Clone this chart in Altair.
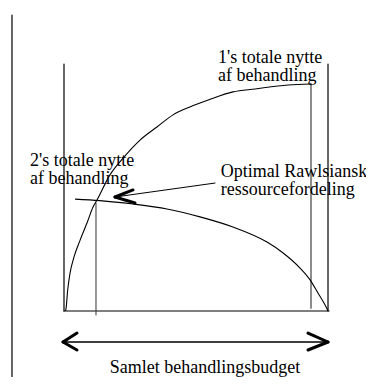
import altair as alt
import pandas as pd

# Curve 1: person 1's total utility vs. budget given to person 1
budget1 = [0.6, 0.8, 1.4, 2.3, 3.8, 6.1, 8.7, 11.0, 12.5, 17.4, 22.4, 28.8, 35.2, 41.3, 47.7, 54.6, 64.0, 72.4, 84.9, 93.6]
nytte1 = [0.0, 1.2, 8.5, 15.4, 21.9, 28.7, 35.6, 42.1, 44.9, 55.1, 61.9, 69.2, 74.5, 79.4, 82.6, 85.4, 88.7, 89.9, 91.5, 91.9]

# Curve 2: person 2's total utility vs. budget given to person 1
budget2 = [4.2, 13.6, 26.1, 39.0, 51.5, 64.0, 76.9, 83.0, 89.4, 93.2, 96.2, 98.9, 100.0]
nytte2 = [45.3, 44.7, 43.3, 41.3, 38.1, 34.0, 27.9, 23.5, 17.4, 12.6, 7.3, 2.4, 0.0]

labels_left = ["1's totale nytte", "af behandling", "2's totale nytte", "af behandling",
               "Optimal Rawlsiansk", "ressourcefordeling"]
axis_label = "Samlet behandlingsbudget"

X_DOMAIN = [-21.21, 114.39]
Y_DOMAIN = [-26.72, 122.67]

xs = alt.Scale(domain=X_DOMAIN, nice=False, zero=False)
ys = alt.Scale(domain=Y_DOMAIN, nice=False, zero=False)

curves = pd.DataFrame(
    [{"x": a, "y": b, "s": "1"} for a, b in zip(budget1, nytte1)]
    + [{"x": a, "y": b, "s": "2"} for a, b in zip(budget2, nytte2)]
)

segs = pd.DataFrame([
    # box
    dict(x=0, y=0, x2=0, y2=100, w=1.2, c="black"),
    dict(x=100, y=0, x2=100, y2=100, w=1.2, c="black"),
    dict(x=0, y=0, x2=100.4, y2=0, w=1.2, c="black"),
    # left page line
    dict(x=-19.7, y=119.8, x2=-19.7, y2=-27.5, w=1.2, c="black"),
    # gray line under end of curve 1
    dict(x=93.56, y=91.9, x2=93.56, y2=1.2, w=1.8, c="#808080"),
    # vertical at intersection
    dict(x=12.12, y=43.7, x2=12.12, y2=-1.6, w=1.0, c="#333333"),
    # double arrow
    dict(x=0.5, y=-12.55, x2=99.5, y2=-12.55, w=1.4, c="black"),
    dict(x=-0.38, y=-12.55, x2=4.92, y2=-8.91, w=3, c="black"),
    dict(x=-0.38, y=-12.55, x2=4.92, y2=-15.79, w=3, c="black"),
    dict(x=100, y=-12.55, x2=92.42, y2=-8.91, w=3, c="black"),
    dict(x=100, y=-12.55, x2=92.42, y2=-15.79, w=3, c="black"),
    # pointer arrow
    dict(x=57.2, y=51.8, x2=19.32, y2=46.15, w=1.0, c="black"),
    dict(x=19.32, y=46.15, x2=26.14, y2=49.0, w=3, c="black"),
    dict(x=19.32, y=46.15, x2=26.9, y2=43.7, w=3, c="black"),
])

texts = pd.DataFrame({
    "t": labels_left,
    "x": [58.3, 58.3, -12.9, -12.9, 59.4, 59.4],
    "y": [100.4, 93.1, 58.7, 51.4, 54.3, 46.9],
})
bottom_text = pd.DataFrame({"t": [axis_label], "x": [53.4], "y": [-25.3]})

lines = alt.Chart(curves).mark_line(interpolate="monotone", color="black", strokeWidth=1.1).encode(
    x=alt.X("x:Q", scale=xs, axis=None),
    y=alt.Y("y:Q", scale=ys, axis=None),
    detail="s:N",
)

rules = alt.Chart(segs).mark_rule(strokeCap="round").encode(
    x=alt.X("x:Q", scale=xs, axis=None),
    y=alt.Y("y:Q", scale=ys, axis=None),
    x2="x2:Q",
    y2="y2:Q",
    strokeWidth=alt.StrokeWidth("w:Q", scale=None),
    color=alt.Color("c:N", scale=None),
)

lab = alt.Chart(texts).mark_text(font="Liberation Serif", fontSize=18, align="left",
                                 baseline="alphabetic", color="black").encode(
    x=alt.X("x:Q", scale=xs, axis=None),
    y=alt.Y("y:Q", scale=ys, axis=None),
    text="t:N",
)

lab2 = alt.Chart(bottom_text).mark_text(font="Liberation Serif", fontSize=18, align="center",
                                        baseline="alphabetic", color="black").encode(
    x=alt.X("x:Q", scale=xs, axis=None),
    y=alt.Y("y:Q", scale=ys, axis=None),
    text="t:N",
)

chart = alt.layer(rules, lines, lab, lab2).properties(
    width=358, height=369, padding=0, autosize=alt.AutoSizeParams(type="none"),
    background="white",
).configure_view(strokeWidth=0)

chart.save("out.html", embed_options={"renderer": "svg", "actions": False})
